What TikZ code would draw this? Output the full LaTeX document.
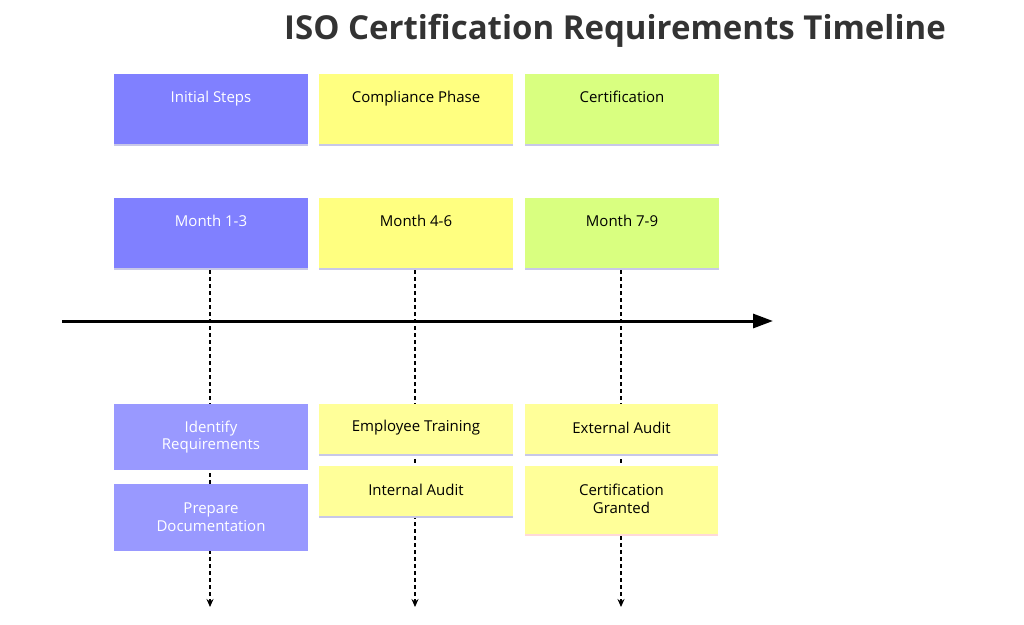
\documentclass[tikz,border=0pt]{standalone}
\usepackage{fontspec}
\setmainfont{Open Sans}
\usetikzlibrary{arrows.meta}
\definecolor{pA}{HTML}{8080FF}\definecolor{pB}{HTML}{9999FF}
\definecolor{yA}{HTML}{FFFF80}\definecolor{yB}{HTML}{FFFF99}
\definecolor{gA}{HTML}{D9FF80}\definecolor{ln}{HTML}{C8C8E8}
\tikzset{
 box/.style={minimum width=194pt,inner sep=0pt,align=center,font=\fontsize{15}{17.5}\selectfont},
 topbox/.style={box,text height=11pt,text depth=3pt},
 dline/.style={dash pattern=on 4pt off 3pt,line width=1.3pt,-{Stealth[length=8pt,width=7pt]}},
 sep/.style={ln,line width=1.5pt}
}
\begin{document}
\begin{tikzpicture}[x=1pt,y=-1pt]
\useasboundingbox (0,0) rectangle (1024,624);
\node[font=\fontsize{33}{38}\selectfont\bfseries,text=black!80] (title) at (615,31) {ISO Certification Requirements Timeline};
\foreach \x/\c/\t/\m/\tc [count=\i] in {114/pA/Initial Steps/Month 1-3/white, 319/yA/Compliance Phase/Month 4-6/black, 525/gA/Certification/Month 7-9/black}{
  \fill[\c] (\x,74) rectangle ++(194,71);
  \draw[sep] (\x,145) -- ++(194,0);
  \node[topbox,text=\tc] (h\i) at (\x+97,98) {\t};
  \fill[\c] (\x,198) rectangle ++(194,71);
  \draw[sep] (\x,269) -- ++(194,0);
  \node[topbox,text=\tc] (m\i) at (\x+97,222) {\m};
  \coordinate (s\i) at (\x+96,270);
  \coordinate (e\i) at (\x+96,607);
}
\foreach \i in {1,2,3}{\draw[dline] (s\i) -- (e\i);}
\coordinate (ta) at (62,321); \coordinate (tb) at (773,321);
\draw[line width=3pt,-{Triangle[length=20pt,width=14pt]}] (ta) -- (tb);
% lower boxes
\fill[pB] (114,404) rectangle (308,470);
\node[box,text=white] (r1) at (211,437) {Identify\\Requirements};
\fill[pB] (114,484) rectangle (308,551);
\node[box,text=white] (r2) at (211,517) {Prepare\\Documentation};
\fill[yB] (319,404) rectangle (513,455); \draw[sep] (319,455)--(513,455);
\node[box] (c1) at (416,428) {Employee Training};
\fill[yB] (319,466) rectangle (513,517); \draw[sep] (319,517)--(513,517);
\node[box] (c2) at (416,490) {Internal Audit};
\fill[yB] (525,404) rectangle (718,455); \draw[sep] (525,455)--(718,455);
\node[box] (g1) at (621.5,428) {External Audit};
\fill[yB] (525,466) rectangle (718,535); \draw[pink!60,line width=1.5pt] (525,535)--(718,535);
\node[box] (g2) at (621.5,499) {Certification\\Granted};
\end{tikzpicture}
\end{document}
